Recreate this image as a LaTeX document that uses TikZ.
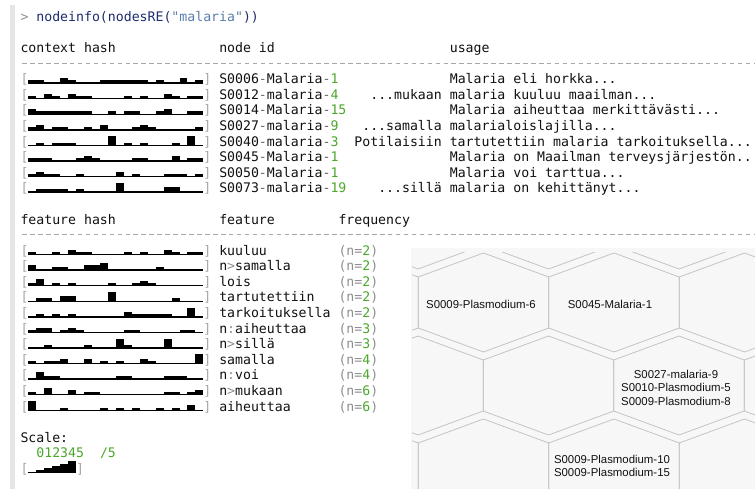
\documentclass[tikz,border=0pt]{standalone}
\usepackage{fontspec}
\setmainfont{Liberation Sans}
\setmonofont{DejaVu Sans Mono}
\definecolor{txt}{HTML}{111111}
\definecolor{grn}{HTML}{4CA82B}
\definecolor{dim}{HTML}{8F8F8F}
\definecolor{brk}{HTML}{A8A8A8}
\definecolor{hyc}{HTML}{666666}
\definecolor{cmdc}{HTML}{1E2B6E}
\definecolor{strc}{HTML}{5A7FAE}
\definecolor{panel}{HTML}{F7F7F7}
\definecolor{hexc}{HTML}{C4C4C4}
\definecolor{barc}{HTML}{E6E6E6}
\begin{document}
\begin{tikzpicture}[x=1pt,y=-1pt,
  mono/.style={anchor=base west,inner sep=0pt,outer sep=0pt,font=\ttfamily\fontsize{13.2}{15}\selectfont,text=txt},
  hexlbl/.style={inner sep=0pt,align=center,font=\fontsize{11.4}{13.5}\selectfont,text=txt},
  hexline/.style={draw=hexc,line width=0.8pt},
  dashrule/.style={draw=brk,line width=1pt,dash pattern=on 4.6pt off 3.35pt}]
\useasboundingbox (0,0) rectangle (755,489);
\fill[white] (0,0) rectangle (755,489);
\fill[barc] (10,5) rectangle (15,489);
% hexagon panel
\fill[panel] (411,248) rectangle (755,489);
\begin{scope}
\clip (412,252) rectangle (755,489);
\foreach \hcx/\hcy in {418/219.5,548.5/219.5,679/219.5,809.5/219.5,
                       353/302.5,483.5/302.5,614/302.5,744.5/302.5,
                       418/385.5,548.5/385.5,679/385.5,809.5/385.5,
                       353/468.5,483.5/468.5,614/468.5,744.5/468.5}
  \draw[hexline] (\hcx,\hcy-49.5) -- (\hcx+65.25,\hcy-25.5) -- (\hcx+65.25,\hcy+25.5)
     -- (\hcx,\hcy+49.5) -- (\hcx-65.25,\hcy+25.5) -- (\hcx-65.25,\hcy-25.5) -- cycle;
\end{scope}
\node[hexlbl] (hA) at (481,304.5) {S0009-Plasmodium-6};
\node[hexlbl] (hB) at (610,304.5) {S0045-Malaria-1};
\node[hexlbl] (hC) at (676,387.5) {S0027-malaria-9\\S0010-Plasmodium-5\\S0009-Plasmodium-8};
\node[hexlbl] (hD) at (612,466) {S0009-Plasmodium-10\\S0009-Plasmodium-15};
% console
\begin{scope}[shift={(20.5,21.5)},x=7.95pt,y=-15.58pt]
\node[mono] (cmd) at (0,0) {{\color{dim}>} {\color{cmdc}nodeinfo(nodesRE(}{\color{strc}"malaria"}{\color{cmdc}))}};
\node[mono] (hctx) at (0,2) {context hash};
\node[mono] (hnid) at (25,2) {node id};
\node[mono] (huse) at (54,2) {usage};
\draw[dashrule] (0.21,2.679) -- (93,2.679);
\node[mono] (hfh) at (0,13) {feature hash};
\node[mono] (hft) at (25,13) {feature};
\node[mono] (hfq) at (40,13) {frequency};
\draw[dashrule] (0.21,13.679) -- (93,13.679);
% hash bars
\foreach \k/\lst in {
  4/{1,1,0,0,2,1,0,0,0,1,1,1,1,1,1,0,1,0,0,2,0,1},
  5/{1,0,2,1,0,2,1,1,0,0,0,0,1,0,1,0,0,2,1,0,1,1},
  6/{2,1,1,1,1,1,1,1,0,0,1,0,1,1,0,0,1,2,0,0,1,1},
  7/{1,2,0,1,1,0,0,1,0,2,0,0,0,1,2,1,0,0,0,0,0,1},
  8/{0,1,0,1,1,1,0,0,0,0,4,0,1,0,1,0,0,0,1,0,4,0},
  9/{1,1,1,0,0,0,1,2,1,0,0,0,0,1,1,0,0,0,2,0,1,1},
  10/{1,2,1,1,0,0,1,0,0,0,0,2,0,1,0,0,0,1,1,1,0,1},
  11/{0,1,1,1,1,0,1,0,0,0,0,4,0,0,0,0,0,2,2,0,0,0},
  15/{1,0,0,1,0,2,1,1,0,0,0,0,1,0,1,0,0,2,1,0,1,1},
  16/{2,0,0,1,1,0,0,2,2,3,0,0,0,0,0,0,1,0,0,0,0,0},
  17/{1,3,0,1,0,1,0,0,0,0,1,0,0,1,2,1,0,0,0,0,0,0},
  18/{0,1,1,0,2,2,0,0,0,0,4,0,0,0,0,0,0,0,1,0,0,0},
  19/{0,1,0,1,0,1,0,0,0,0,0,0,2,1,1,1,1,1,0,0,4,0},
  20/{1,2,2,0,1,2,1,0,0,0,0,0,1,1,0,0,0,0,0,1,1,0},
  21/{0,0,1,0,0,0,0,1,0,0,0,4,1,0,0,0,0,4,0,0,0,0},
  22/{1,0,1,1,2,0,0,2,0,1,0,1,0,0,2,1,0,0,0,0,0,4},
  23/{0,3,1,1,0,0,0,0,0,0,0,1,1,0,0,0,0,1,1,1,0,0},
  24/{1,0,3,0,0,2,0,1,1,0,0,0,0,0,0,0,0,1,1,0,1,2},
  25/{4,0,0,0,1,0,0,0,0,1,0,1,0,1,0,0,1,0,1,0,2,0}}{
  \node[mono,text=brk] (lb\k) at (0,\k) {[};
  \node[mono,text=brk] (rb\k) at (23,\k) {]};
  \foreach \lv [count=\i] in \lst
    \fill[black] (\i,\k) rectangle ++(1,{-(1.4+2.1*\lv)/15.58});
}
% context rows
\foreach \k/\pa/\pb/\pc/\uc/\ut in {
  4/S0006/Malaria/1/54/{Malaria eli horkka...},
  5/S0012/malaria/4/44/{...mukaan malaria kuuluu maailman...},
  6/S0014/Malaria/15/54/{Malaria aiheuttaa merkittävästi...},
  7/S0027/malaria/9/43/{...samalla malarialoislajilla...},
  8/S0040/malaria/3/42/{Potilaisiin tartutettiin malaria tarkoituksella...},
  9/S0045/Malaria/1/54/{Malaria on Maailman terveysjärjestön..},
  10/S0050/Malaria/1/54/{Malaria voi tarttua...},
  11/S0073/malaria/19/45/{...sillä malaria on kehittänyt...}}{
  \node[mono] (id\k) at (25,\k) {\pa{\color{hyc}-}\pb{\color{hyc}-}{\color{grn}\pc}};
  \node[mono] (us\k) at (\uc,\k) {\ut};
}
% feature rows
\foreach \k/\fn/\fq in {
  15/kuuluu/2, 16/{n{\color{dim}>}samalla}/2, 17/lois/2, 18/tartutettiin/2,
  19/tarkoituksella/2, 20/{n{\color{dim}:}aiheuttaa}/3, 21/{n{\color{dim}>}sillä}/3,
  22/samalla/4, 23/{n{\color{dim}:}voi}/4, 24/{n{\color{dim}>}mukaan}/6, 25/aiheuttaa/6}{
  \node[mono] (ft\k) at (25,\k) {\fn};
  \node[mono] (fq\k) at (40,\k) {{\color{dim}(n=}{\color{grn}\fq}{\color{dim})}};
}
% scale
\node[mono] (sc) at (0,27) {Scale:};
\node[mono,text=grn] (sd) at (2,28) {012345};
\node[mono,text=grn] (s5) at (10,28) {/5};
\node[mono,text=brk] (slb) at (0,29) {[};
\node[mono,text=brk] (srb) at (7,29) {]};
\foreach \lv [count=\i] in {0,1,2,3,4,5}
  \fill[black] (\i,29) rectangle ++(1,{-(1.4+2.1*\lv)/15.58});
\end{scope}
\end{tikzpicture}
\end{document}
